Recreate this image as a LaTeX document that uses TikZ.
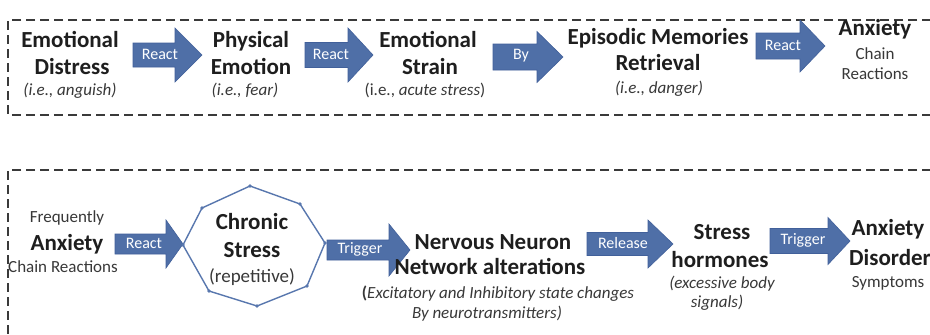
\documentclass[tikz,border=0pt]{standalone}
\usepackage{fontspec}
\setmainfont{Carlito}
\definecolor{arrowblue}{HTML}{4F6FA7}
\definecolor{arrowedge}{HTML}{41609A}
\definecolor{octblue}{HTML}{5877AE}
\definecolor{txt}{HTML}{1E1E1E}
\definecolor{subtxt}{HTML}{383838}
\definecolor{dashgray}{HTML}{3A3A3A}
\tikzset{
 title/.style={anchor=base, inner sep=0pt, text=txt, font=\fontsize{23}{27}\selectfont\bfseries},
 subit/.style={anchor=base, inner sep=0pt, text=subtxt, font=\fontsize{17}{20}\selectfont\itshape},
 subrm/.style={anchor=base, inner sep=0pt, text=subtxt, font=\fontsize{17}{20}\selectfont},
 albl/.style={anchor=center, inner sep=0pt, text=white, font=\fontsize{16}{19}\selectfont},
 blk/.style={fill=arrowblue, draw=arrowedge, line width=0.6pt, line join=miter},
 dbox/.style={draw=dashgray, line width=1.4pt, dash pattern=on 9pt off 5pt},
 octline/.style={draw=octblue, line width=1.4pt, line join=round},
}
% x0, x1 (head start), x2 (tip), yc, body half height, head half height
\newcommand\blkarrow[6]{%
 \draw[blk] (#1,#4-#5) -- (#2,#4-#5) -- (#2,#4-#6) -- (#3,#4) -- (#2,#4+#6) -- (#2,#4+#5) -- (#1,#4+#5) -- cycle;}
\begin{document}
\begin{tikzpicture}[x=1pt,y=-1pt]
\useasboundingbox (0,0) rectangle (930,335);
\clip (0,0) rectangle (930,335);
\fill[white] (0,0) rectangle (930,335);
% dashed frames
\draw[dbox] (945,20) -- (8,20) -- (8,115) -- (945,115);
\draw[dbox] (945,170) -- (8,170) -- (8,350);

% ---------- top row ----------
\node[title] (ed1) at (70,47.5) {Emotional};
\node[title] (ed2) at (72,74.5) {Distress};
\node[subit] (ed3) at (70,95.5) {(i.e., anguish)};

\blkarrow{133}{175}{202}{55}{12}{27}
\node[albl] (a1) at (160,54) {React};

\node[title] (pe1) at (251,47.5) {Physical};
\node[title] (pe2) at (251,74.5) {Emotion};
\node[subit] (pe3) at (245,95.5) {(i.e., fear)};

\blkarrow{305}{348}{373}{55}{12.5}{27}
\node[albl] (a2) at (331,54) {React};

\node[title] (es1) at (428,47.5) {Emotional};
\node[title] (es2) at (430,74.5) {Strain};
\node[subrm] (es3) at (425,95.5) {(i.e., \textit{acute stress})};

\blkarrow{493}{537}{563}{57}{13}{25.5}
\node[albl] (a3) at (521,56) {By};

\node[title] (em1) at (658,44.5) {Episodic Memories};
\node[title] (em2) at (658,70.5) {Retrieval};
\node[subit] (em3) at (659,93.5) {(i.e., danger)};

\blkarrow{756}{800}{825}{46}{13}{26}
\node[albl] (a4) at (783,45) {React};

\node[title] (ac1) at (875,35.5) {Anxiety};
\node[subrm] (ac2) at (875,59) {Chain};
\node[subrm] (ac3) at (875,79) {Reactions};

% ---------- bottom row ----------
\node[subrm] (fa1) at (67,222.5) {Frequently};
\node[title] (fa2) at (67,250.5) {Anxiety};
\node[subrm] (fa3) at (63,272.5) {Chain Reactions};

\blkarrow{115}{166}{183}{244}{10}{24}
\node[albl] (b1) at (144,243) {React};

\draw[octline] (250,186) -- (300,204) -- (325,243) -- (307,286) -- (257,306) -- (209,291) -- (183,245) -- (202,208) -- cycle;
\foreach \p in {(250,186),(300,204),(325,243),(307,286),(257,306),(209,291),(183,245),(202,208)}
  \fill[octblue] \p circle (1.8);
\node[title] (cs1) at (252,229.5) {Chronic};
\node[title] (cs2) at (252,257.5) {Stress};
\node[anchor=base, inner sep=0pt, text=subtxt, font=\fontsize{19}{22}\selectfont] (cs3) at (252,282.5) {(repetitive)};

\blkarrow{327}{389}{410}{250}{10}{26}
\node[albl] (b2) at (360,249) {Trigger};

\node[title] (nn1) at (493,249.5) {Nervous Neuron};
\node[title] (nn2) at (490,274.5) {Network alterations};
\node[subit] (nn3) at (498,298.5) {{\upshape\bfseries(}Excitatory and Inhibitory state changes};
\node[subit] (nn4) at (487,318.5) {By neurotransmitters)};

\blkarrow{587}{648}{673}{244}{11.5}{24}
\node[albl] (b3) at (623,243) {Release};

\node[title] (sh1) at (722,239.5) {Stress};
\node[title] (sh2) at (720,267.5) {hormones};
\node[subit] (sh3) at (722,288.5) {(excessive body};
\node[subit] (sh4) at (717,307.5) {signals)};

\blkarrow{770}{828}{850}{241}{12.5}{23.5}
\node[albl] (b4) at (803,240) {Trigger};

\node[title] (ad1) at (888,235.5) {Anxiety};
\node[title, anchor=base west] (ad2) at (849,265.5) {Disorder};
\node[subrm] (ad3) at (888,287.5) {Symptoms};
\end{tikzpicture}
\end{document}
